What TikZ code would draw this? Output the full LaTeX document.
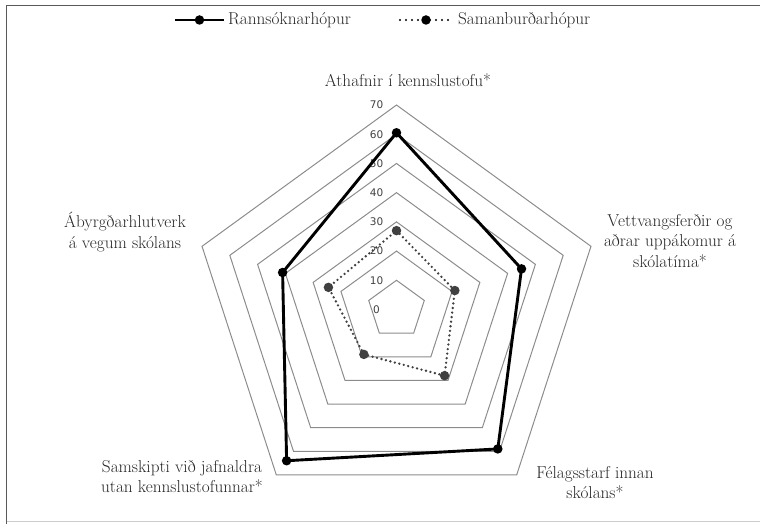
\documentclass[tikz,border=0pt]{standalone}
\usepackage{fontspec}
\usepackage{xcolor}
\usepackage{tikz}
\usetikzlibrary{calc, positioning}
\newfontfamily\tickfont{DejaVu Sans}
\definecolor{gridgray}{HTML}{8C8C8C}
\definecolor{darkser}{HTML}{404040}
\definecolor{labeltext}{HTML}{262626}

\begin{document}
\begin{tikzpicture}[
    x=1pt, y=1pt,
    grid/.style={draw=gridgray, line width=1pt},
    ticklbl/.style={font=\tickfont\fontsize{10.5}{12}\selectfont, text=darkser, inner sep=0pt},
    axlbl/.style={font=\fontsize{17.2}{20.8}\selectfont, text=labeltext, align=center, inner sep=0pt},
    legtext/.style={font=\fontsize{17.2}{20.8}\selectfont, text=labeltext, inner sep=0pt, anchor=west},
    rannser/.style={draw=black, line width=2.9pt, line join=round},
    samser/.style={draw=darkser, line width=2.6pt, line cap=round, dash pattern=on 0pt off 4.6pt},
    dot/.style={circle, inner sep=0pt, minimum size=9.5pt}
]
  \useasboundingbox (0,0) rectangle (760,524);
  \draw[draw=black!65, line width=1.6pt] (760,518.5) -- (6.5,518.5) -- (6.5,0);
  \draw[draw=black!20, line width=1pt] (6.5,2) -- (760,2);

  \coordinate (c) at (396.5,214.5);

  \foreach \lev in {10,20,...,70}{
    \pgfmathsetmacro{\r}{\lev*2.921}
    \draw[grid, shift={(c)}] (90:\r) -- (18:\r) -- (-54:\r) -- (-126:\r) -- (162:\r) -- cycle;
  }
  \foreach \lev in {0,10,...,70}
    \node[ticklbl] (tick\lev) at ($(c)+(-20,\lev*2.921)$) {\lev};

  \foreach \ang/\val [count=\i] in {90/60.5, 18/45, -54/59, -126/64, 162/41}
    \coordinate (r\i) at ($(c)+(\ang:{\val*2.921})$);
  \foreach \ang/\val [count=\i] in {90/27, 18/21, -54/28, -126/19, 162/24.5}
    \coordinate (s\i) at ($(c)+(\ang:{\val*2.921})$);

  \draw[samser] (s1) -- (s2) -- (s3) -- (s4) -- (s5) -- cycle;
  \foreach \i in {1,...,5}
    \node[dot, fill=darkser] at (s\i) {};
  \draw[rannser] (r1) -- (r2) -- (r3) -- (r4) -- (r5) -- cycle;
  \foreach \i in {1,...,5}
    \node[dot, fill=black] at (r\i) {};

  \node[axlbl] (athafnir) at (408,444) {Athafnir í kennslustofu*};
  \node[axlbl] (vettvangur) at (670,283) {Vettvangsferðir og\\aðrar uppákomur á\\skólatíma*};
  \node[axlbl] (felagsstarf) at (595,41.5) {Félagsstarf innan\\skólans*};
  \node[axlbl] (samskipti) at (182,47.5) {Samskipti við jafnaldra\\utan kennslustofunnar*};
  \node[axlbl] (abyrgd) at (125,292) {Ábyrgðarhlutverk\\á vegum skólans};

  \coordinate (legRa) at (175,504);
  \coordinate (legRb) at (224,504);
  \draw[rannser, line width=2.2pt] (legRa) -- (legRb);
  \node[dot, fill=black] (legRdot) at ($(legRa)!0.5!(legRb)$) {};
  \node[legtext, right=4pt of legRb] (legR) {Rannsóknarhópur};

  \coordinate (legSa) at (400,504);
  \coordinate (legSb) at (452,504);
  \draw[samser, draw=black, line width=2.2pt, dash pattern=on 0pt off 6pt] (legSa) -- (legSb);
  \node[dot, fill=black] (legSdot) at ($(legSa)!0.5!(legSb)$) {};
  \node[legtext, right=6pt of legSb] (legS) {Samanburðarhópur};
\end{tikzpicture}
\end{document}
